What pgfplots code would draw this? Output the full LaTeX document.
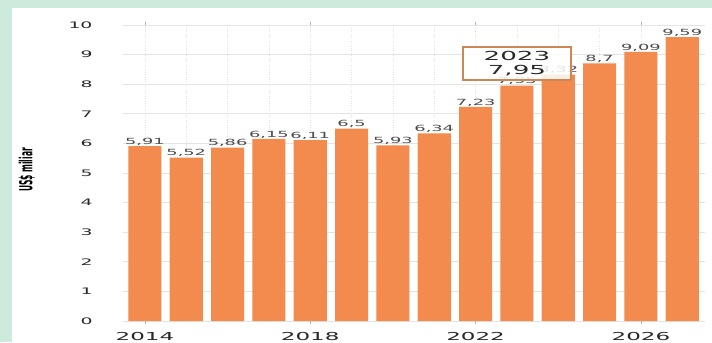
\documentclass[border=0pt]{standalone}
\usepackage{fontspec}
\setmainfont{DejaVu Sans}[FakeStretch=2.1]
\newfontfamily\ylfont{DejaVu Sans}[FakeStretch=0.42]
\usepackage{pgfplots}
\pgfplotsset{compat=1.18}
\definecolor{barorange}{RGB}{242,139,77}
\definecolor{mint}{RGB}{204,235,220}
\definecolor{txt}{RGB}{40,40,40}
\definecolor{lbl}{RGB}{75,75,75}
\definecolor{boxc}{RGB}{205,135,85}
\definecolor{gridc}{RGB}{228,228,228}
\begin{document}
\begin{tikzpicture}[x=1bp,y=1bp]
\useasboundingbox (0,0) rectangle (712,342);
\fill[mint] (0,0) rectangle (712,342);
\fill[white] (12,0) rectangle (712,334);
\begin{axis}[
  at={(123bp,21bp)}, anchor=south west,
  width=582bp, height=296bp, scale only axis,
  xmin=2013.47, xmax=2027.55, ymin=0, ymax=10,
  axis line style={draw=none},
  ytick={0,1,...,10}, ytick style={draw=none},
  xtick={2014,2018,2022,2026},
  minor xtick={2014,2015,...,2027},
  xminorgrids, ymajorgrids,
  minor grid style={gridc, dotted, line width=0.8bp},
  major grid style={gridc, line width=0.7bp},
  minor tick length=0bp, major tick length=3bp, tick align=outside,
  xtick style={gray!60, line width=0.6bp},
  /pgf/number format/assume math mode=true,
  /pgf/number format/use comma,
  /pgf/number format/1000 sep={},
  yticklabel style={font=\fontsize{9}{10}\selectfont, text=txt, xshift=-24bp},
  xticklabel style={font=\fontsize{11}{12}\selectfont, text=txt, yshift=-5bp},
  ybar, bar width=0.8,
  nodes near coords,
  point meta=y,
  nodes near coords style={font=\fontsize{8.5}{9}\selectfont, text=lbl, inner sep=0.6bp, anchor=south,
    /pgf/number format/fixed, /pgf/number format/precision=2},
  clip=false,
]
\addplot[fill=barorange, draw=none] coordinates {
(2014,5.91) (2015,5.52) (2016,5.86) (2017,6.15) (2018,6.11) (2019,6.5) (2020,5.93)
(2021,6.34) (2022,7.23) (2023,7.95) (2024,8.32) (2025,8.7) (2026,9.09) (2027,9.59)};
\coordinate (tt) at (axis cs:2023,8.7);
\end{axis}
\node[draw=boxc, line width=1.3bp, fill=white, fill opacity=0.85, text opacity=1,
  minimum width=108bp, minimum height=33bp, inner sep=0pt, align=center, text=txt,
  font=\fontsize{12.5}{14}\selectfont] at (tt) {2023\\7,95};
\node[rotate=90, text=black] at (27,172) {\ylfont\bfseries\fontsize{18}{19}\selectfont US\$ miliar};
\end{tikzpicture}
\end{document}
